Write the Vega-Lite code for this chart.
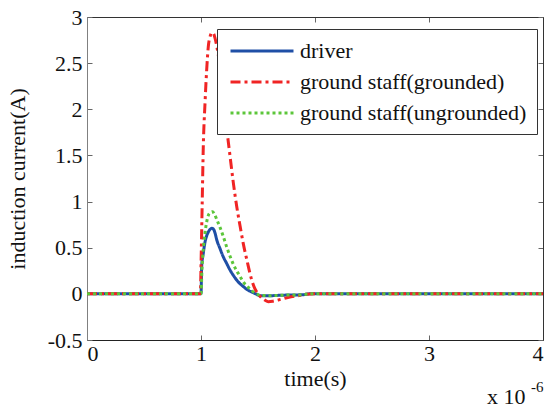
{
  "$schema": "https://vega.github.io/schema/vega-lite/v6.json",
  "width": 456,
  "height": 323,
  "autosize": "none",
  "padding": {"left": 87, "top": 17, "right": 3, "bottom": 68},
  "background": "white",
  "config": {
    "view": {"stroke": null},
    "font": "Liberation Serif",
    "axis": {
      "grid": false,
      "domainColor": "#333333",
      "tickColor": "#666666",
      "labelColor": "#111111",
      "titleColor": "#111111",
      "labelFont": "Liberation Serif",
      "titleFont": "Liberation Serif",
      "labelFontSize": 22,
      "titleFontSize": 22,
      "titleFontWeight": "normal",
      "tickSize": -5
    },
    "legend": {
      "labelFont": "Liberation Serif",
      "labelFontSize": 22,
      "labelColor": "#111111"
    }
  },
  "resolve": {"axis": {"x": "independent", "y": "independent"}},
  "data": {
    "values": [
      {"t": 0, "v": 0, "s": "driver"},
      {"t": 1.0, "v": 0, "s": "driver"},
      {"t": 1.006, "v": 0.3, "s": "driver"},
      {"t": 1.02, "v": 0.44, "s": "driver"},
      {"t": 1.035, "v": 0.56, "s": "driver"},
      {"t": 1.05, "v": 0.63, "s": "driver"},
      {"t": 1.064, "v": 0.67, "s": "driver"},
      {"t": 1.08, "v": 0.70, "s": "driver"},
      {"t": 1.094, "v": 0.71, "s": "driver"},
      {"t": 1.11, "v": 0.70, "s": "driver"},
      {"t": 1.123, "v": 0.66, "s": "driver"},
      {"t": 1.137, "v": 0.59, "s": "driver"},
      {"t": 1.167, "v": 0.49, "s": "driver"},
      {"t": 1.196, "v": 0.40, "s": "driver"},
      {"t": 1.225, "v": 0.33, "s": "driver"},
      {"t": 1.254, "v": 0.26, "s": "driver"},
      {"t": 1.284, "v": 0.20, "s": "driver"},
      {"t": 1.313, "v": 0.15, "s": "driver"},
      {"t": 1.342, "v": 0.11, "s": "driver"},
      {"t": 1.371, "v": 0.08, "s": "driver"},
      {"t": 1.40, "v": 0.05, "s": "driver"},
      {"t": 1.445, "v": 0.02, "s": "driver"},
      {"t": 1.48, "v": 0.0, "s": "driver"},
      {"t": 1.52, "v": -0.02, "s": "driver"},
      {"t": 1.6, "v": -0.02, "s": "driver"},
      {"t": 1.7, "v": -0.015, "s": "driver"},
      {"t": 1.8, "v": -0.012, "s": "driver"},
      {"t": 1.89, "v": -0.01, "s": "driver"},
      {"t": 1.95, "v": 0, "s": "driver"},
      {"t": 2.0, "v": 0, "s": "driver"},
      {"t": 4.0, "v": 0, "s": "driver"},
      {"t": 0, "v": 0, "s": "ground staff(grounded)"},
      {"t": 0.995, "v": 0, "s": "ground staff(grounded)"},
      {"t": 1.0, "v": 0.3, "s": "ground staff(grounded)"},
      {"t": 1.01, "v": 0.95, "s": "ground staff(grounded)"},
      {"t": 1.02, "v": 1.59, "s": "ground staff(grounded)"},
      {"t": 1.035, "v": 2.06, "s": "ground staff(grounded)"},
      {"t": 1.05, "v": 2.43, "s": "ground staff(grounded)"},
      {"t": 1.064, "v": 2.68, "s": "ground staff(grounded)"},
      {"t": 1.08, "v": 2.79, "s": "ground staff(grounded)"},
      {"t": 1.094, "v": 2.83, "s": "ground staff(grounded)"},
      {"t": 1.11, "v": 2.82, "s": "ground staff(grounded)"},
      {"t": 1.123, "v": 2.77, "s": "ground staff(grounded)"},
      {"t": 1.15, "v": 2.60, "s": "ground staff(grounded)"},
      {"t": 1.18, "v": 2.33, "s": "ground staff(grounded)"},
      {"t": 1.2, "v": 2.10, "s": "ground staff(grounded)"},
      {"t": 1.225, "v": 1.80, "s": "ground staff(grounded)"},
      {"t": 1.254, "v": 1.50, "s": "ground staff(grounded)"},
      {"t": 1.284, "v": 1.20, "s": "ground staff(grounded)"},
      {"t": 1.313, "v": 0.95, "s": "ground staff(grounded)"},
      {"t": 1.342, "v": 0.74, "s": "ground staff(grounded)"},
      {"t": 1.37, "v": 0.55, "s": "ground staff(grounded)"},
      {"t": 1.40, "v": 0.38, "s": "ground staff(grounded)"},
      {"t": 1.445, "v": 0.15, "s": "ground staff(grounded)"},
      {"t": 1.475, "v": 0.05, "s": "ground staff(grounded)"},
      {"t": 1.50, "v": 0.0, "s": "ground staff(grounded)"},
      {"t": 1.55, "v": -0.06, "s": "ground staff(grounded)"},
      {"t": 1.59, "v": -0.085, "s": "ground staff(grounded)"},
      {"t": 1.63, "v": -0.08, "s": "ground staff(grounded)"},
      {"t": 1.68, "v": -0.066, "s": "ground staff(grounded)"},
      {"t": 1.77, "v": -0.037, "s": "ground staff(grounded)"},
      {"t": 1.85, "v": -0.02, "s": "ground staff(grounded)"},
      {"t": 1.92, "v": -0.005, "s": "ground staff(grounded)"},
      {"t": 2.0, "v": 0, "s": "ground staff(grounded)"},
      {"t": 4.0, "v": 0, "s": "ground staff(grounded)"},
      {"t": 0, "v": 0, "s": "ground staff(ungrounded)"},
      {"t": 1.0, "v": 0, "s": "ground staff(ungrounded)"},
      {"t": 1.008, "v": 0.25, "s": "ground staff(ungrounded)"},
      {"t": 1.015, "v": 0.40, "s": "ground staff(ungrounded)"},
      {"t": 1.035, "v": 0.66, "s": "ground staff(ungrounded)"},
      {"t": 1.05, "v": 0.78, "s": "ground staff(ungrounded)"},
      {"t": 1.064, "v": 0.85, "s": "ground staff(ungrounded)"},
      {"t": 1.08, "v": 0.88, "s": "ground staff(ungrounded)"},
      {"t": 1.10, "v": 0.89, "s": "ground staff(ungrounded)"},
      {"t": 1.12, "v": 0.86, "s": "ground staff(ungrounded)"},
      {"t": 1.14, "v": 0.80, "s": "ground staff(ungrounded)"},
      {"t": 1.167, "v": 0.72, "s": "ground staff(ungrounded)"},
      {"t": 1.196, "v": 0.62, "s": "ground staff(ungrounded)"},
      {"t": 1.225, "v": 0.51, "s": "ground staff(ungrounded)"},
      {"t": 1.254, "v": 0.41, "s": "ground staff(ungrounded)"},
      {"t": 1.284, "v": 0.32, "s": "ground staff(ungrounded)"},
      {"t": 1.313, "v": 0.25, "s": "ground staff(ungrounded)"},
      {"t": 1.342, "v": 0.19, "s": "ground staff(ungrounded)"},
      {"t": 1.371, "v": 0.13, "s": "ground staff(ungrounded)"},
      {"t": 1.415, "v": 0.07, "s": "ground staff(ungrounded)"},
      {"t": 1.45, "v": 0.03, "s": "ground staff(ungrounded)"},
      {"t": 1.488, "v": 0.0, "s": "ground staff(ungrounded)"},
      {"t": 1.52, "v": -0.015, "s": "ground staff(ungrounded)"},
      {"t": 1.6, "v": -0.02, "s": "ground staff(ungrounded)"},
      {"t": 1.7, "v": -0.015, "s": "ground staff(ungrounded)"},
      {"t": 1.8, "v": -0.012, "s": "ground staff(ungrounded)"},
      {"t": 1.89, "v": -0.01, "s": "ground staff(ungrounded)"},
      {"t": 1.95, "v": 0, "s": "ground staff(ungrounded)"},
      {"t": 4.0, "v": 0, "s": "ground staff(ungrounded)"}
    ]
  },
  "layer": [
    {
      "mark": {"type": "line", "strokeWidth": 3, "interpolate": "monotone"},
      "encoding": {
        "x": {
          "field": "t", "type": "quantitative",
          "scale": {"domain": [0, 4], "nice": false, "zero": false},
          "axis": {"orient": "bottom", "values": [0, 1, 2, 3, 4], "title": "time(s)", "labelPadding": 8, "titlePadding": 4, "domainColor": "#222222"}
        },
        "y": {
          "field": "v", "type": "quantitative",
          "scale": {"domain": [-0.5, 3], "nice": false, "zero": false},
          "axis": {"orient": "left", "values": [-0.5, 0, 0.5, 1, 1.5, 2, 2.5, 3], "labelExpr": "'' + datum.value", "title": "induction current(A)", "labelPadding": 10, "titlePadding": 18, "domainColor": "#808080"}
        },
        "color": {
          "field": "s", "type": "nominal",
          "scale": {"domain": ["driver", "ground staff(grounded)", "ground staff(ungrounded)"], "range": ["#1f4fa6", "#f02424", "#5cc63a"]},
          "legend": {
            "title": null,
            "orient": "none",
            "legendX": 130,
            "legendY": 12,
            "fillColor": "white",
            "strokeColor": "#333333",
            "padding": 10,
            "symbolType": "M-3,0H3",
            "symbolSize": 441,
            "symbolStrokeWidth": 3,
            "symbolOffset": 23,
            "labelOffset": 26,
            "labelLimit": 400,
            "labelFont": "Liberation Serif",
            "labelFontSize": 22,
            "rowPadding": 8
          }
        },
        "strokeDash": {
          "field": "s", "type": "nominal",
          "scale": {"domain": ["driver", "ground staff(grounded)", "ground staff(ungrounded)"], "range": [[1, 0], [10, 4, 3, 4], [3, 3]]},
          "legend": null
        }
      }
    },
    {
      "mark": {"type": "line", "opacity": 0},
      "encoding": {
        "x": {
          "field": "t", "type": "quantitative",
          "scale": {"domain": [0, 4], "nice": false, "zero": false},
          "axis": {"orient": "top", "values": [0, 1, 2, 3, 4], "labels": false, "title": "x 10", "titleX": 438, "titleY": 386, "titleAlign": "right", "titleBaseline": "alphabetic", "titleAnchor": null}
        },
        "y": {
          "field": "v", "type": "quantitative",
          "scale": {"domain": [-0.5, 3], "nice": false, "zero": false},
          "axis": {"orient": "right", "values": [-0.5, 0, 0.5, 1, 1.5, 2, 2.5, 3], "labels": false, "title": "-6", "titleAngle": 0, "titleFontSize": 15, "titleX": 0, "titleY": 374, "titleAlign": "right", "titleBaseline": "alphabetic", "titleAnchor": null}
        }
      }
    }
  ]
}
